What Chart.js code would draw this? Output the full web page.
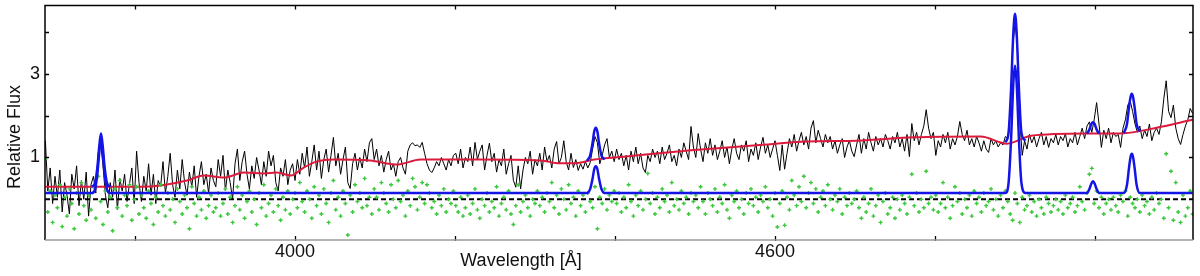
<!DOCTYPE html>
<html><head><meta charset="utf-8">
<script src="https://cdn.jsdelivr.net/npm/chart.js@4.4.0/dist/chart.umd.min.js"></script>
<style>html,body{margin:0;padding:0;background:#fff;overflow:hidden}#wrap{width:1200px;height:276px;position:relative}</style>
</head><body><div id="wrap"><canvas id="c" width="1200" height="276"></canvas></div>
<script>
// Observed spectrum on a regular wavelength grid (Å)
const waveStart = 3688;
const waveStep = 3;
const observedFlux = [
1.40,0.20,0.75,-0.10,0.55,0.05,0.70,-0.30,0.40,0.10,-0.35,0.60,0.25,0.80,-0.15,0.45,0.00,0.65,-0.40,0.35,0.55,0.15,1.10,1.35,0.80,0.10,-0.20,0.40,0.05,0.70,-0.25,0.50,0.20,0.60,-0.05,0.35,0.75,-0.10,
1.15,0.40,-0.05,0.55,0.20,0.85,0.10,0.60,-0.10,0.45,0.30,0.90,0.15,0.55,1.10,0.35,0.05,0.70,0.25,0.95,0.40,0.10,0.65,0.30,0.80,0.05,0.55,0.90,0.35,0.60,0.15,0.75,0.45,
0.30,0.95,0.55,1.05,0.20,0.70,0.40,0.00,0.85,1.20,0.45,0.90,1.15,0.60,0.25,0.80,0.50,1.00,0.70,0.35,0.90,0.55,1.15,0.80,1.05,0.40,0.20,0.75,0.55,0.95,0.35,0.70,0.85,
0.45,0.95,0.60,1.10,0.75,1.25,0.55,0.90,1.30,0.70,1.15,0.50,0.95,1.20,0.65,1.05,1.48,0.80,1.10,0.60,0.95,1.25,0.40,0.26,0.85,1.10,0.70,1.00,0.75,1.20,0.90,1.35,1.45,0.95,
1.20,0.80,1.05,0.65,0.95,1.15,0.70,0.85,0.55,0.90,1.00,0.75,0.60,1.15,1.30,1.35,1.28,1.30,1.24,1.36,1.10,0.85,0.70,0.64,0.75,0.90,0.80,1.00,0.85,0.70,0.95,0.80,1.05,
1.10,0.85,1.20,0.75,1.00,0.90,1.25,0.80,1.36,0.95,1.15,1.30,0.70,1.05,1.34,0.90,1.10,0.65,0.95,0.80,1.20,0.60,0.85,1.05,0.45,0.29,0.80,0.25,0.70,1.00,0.85,1.15,0.60,0.95,
0.80,1.10,0.70,1.25,0.90,1.05,0.75,1.20,1.38,0.85,1.00,1.40,0.90,0.70,1.10,0.76,0.95,0.69,0.85,0.72,0.90,0.75,0.88,1.20,1.50,1.35,0.85,1.05,1.30,1.45,1.00,1.15,0.90,
1.20,0.95,1.10,0.80,1.05,0.70,1.15,0.90,1.25,0.85,1.10,0.75,0.64,1.05,0.90,1.20,1.00,1.15,0.85,1.25,0.95,1.10,1.30,0.90,1.05,0.80,1.20,1.00,1.35,1.15,0.95,1.74,1.25,
1.00,1.57,1.20,0.90,1.35,1.10,1.45,1.05,1.30,0.95,1.15,1.40,1.00,1.25,0.85,1.20,1.45,1.10,0.95,1.30,1.15,1.40,0.90,1.20,1.05,1.35,0.95,1.25,1.48,1.10,1.30,1.00,1.20,1.40,
1.05,0.69,1.30,0.72,1.10,1.45,1.25,1.55,1.15,1.40,1.60,1.30,1.50,1.20,1.70,1.88,1.35,1.65,1.45,1.25,1.55,1.35,1.50,1.20,1.40,1.10,1.30,1.45,1.00,1.25,1.40,1.15,1.02,
1.30,1.55,1.10,1.45,1.20,1.60,1.35,1.15,1.50,1.30,1.45,1.25,1.55,1.40,1.20,1.50,1.35,1.60,1.25,1.45,1.15,1.55,1.02,1.81,1.40,1.60,1.30,1.55,1.75,2.14,1.70,1.45,1.60,
1.05,1.40,1.25,1.55,1.35,1.60,1.20,1.45,1.30,1.50,1.86,1.55,1.40,1.65,1.30,1.45,1.25,1.50,1.35,1.15,1.40,1.20,1.12,1.45,1.30,1.40,1.25,1.35,1.30,1.50,1.45,2.10,3.60,4.20,
3.70,1.90,1.05,1.40,1.20,1.55,1.35,1.50,1.25,1.45,1.60,1.30,1.50,1.24,1.45,1.35,1.55,1.30,1.50,1.40,1.57,1.25,1.45,1.35,1.60,1.30,1.50,1.70,1.45,1.75,1.85,1.60,1.90,
2.31,1.80,1.24,1.65,1.45,1.70,1.35,1.60,1.50,1.55,1.24,1.70,1.90,2.25,2.35,2.10,1.80,1.60,1.75,1.45,1.65,1.50,1.80,1.40,1.60,1.70,1.55,1.85,2.40,2.83,2.10,1.95,2.25,1.70,
1.45,1.31,1.55,1.75,1.90,2.17,2.05
];
// Fit residuals on the same grid
const residuals = [
0.95,-0.30,0.20,-0.55,0.10,-0.20,0.35,-0.65,0.05,-0.40,0.25,-0.10,-0.70,0.15,-0.35,0.40,-0.15,-0.50,0.10,-0.25,0.30,-0.45,0.55,-0.05,-0.60,0.20,-0.30,0.05,-0.75,0.25,-0.20,0.45,-0.40,0.10,-0.15,0.35,-0.50,0.00,
0.30,-0.35,0.10,-0.20,-0.45,0.20,-0.10,-0.60,0.05,-0.30,0.35,-0.15,-0.40,0.15,-0.25,0.00,-0.55,0.25,-0.05,-0.35,0.10,-0.20,-0.70,0.30,-0.10,-0.40,0.05,-0.25,0.20,-0.45,-0.15,0.10,-0.30,
-0.20,0.15,-0.40,-0.10,0.25,-0.35,0.05,-0.55,-0.15,0.30,-0.25,0.10,-0.45,-0.05,0.20,-0.30,0.00,-0.60,0.15,-0.20,0.35,-0.40,-0.10,0.10,-0.30,0.25,-0.15,-0.50,0.05,-0.25,0.20,-0.35,0.00,
0.15,-0.20,0.40,-0.05,-0.30,0.20,0.00,-0.45,0.30,-0.15,0.10,-0.35,0.25,-0.10,-0.55,0.15,0.45,-0.25,0.05,-0.40,0.20,-0.10,-0.85,0.10,-0.30,0.35,-0.05,0.15,-0.20,0.50,-0.15,0.05,-0.35,0.25,
0.05,-0.25,0.40,0.15,-0.10,-0.30,0.35,0.00,-0.20,0.45,-0.05,0.10,-0.40,0.20,-0.15,0.50,0.30,-0.25,0.05,0.40,-0.10,0.35,0.15,-0.20,-0.05,-0.35,0.10,-0.15,0.25,-0.30,0.00,-0.10,0.20,
-0.15,-0.30,0.05,-0.40,-0.20,0.10,-0.35,-0.10,0.25,-0.25,-0.45,0.00,-0.15,0.15,-0.30,-0.05,-0.20,0.30,-0.40,-0.10,0.05,-0.25,0.20,-0.35,-0.60,-0.15,0.35,-0.30,-0.05,0.10,-0.20,-0.40,0.00,-0.10,
0.20,-0.15,0.05,-0.30,0.15,-0.05,0.40,-0.20,0.10,-0.35,0.25,0.00,-0.25,0.35,-0.10,0.05,-0.40,0.20,-0.15,0.10,-0.30,0.15,-0.05,-0.20,0.30,-0.70,0.05,-0.10,0.25,-0.25,0.10,-0.05,0.20,
-0.10,0.15,-0.30,0.05,-0.20,0.35,-0.05,-0.40,0.10,-0.15,0.20,-0.25,0.00,0.62,-0.10,0.15,-0.35,0.05,-0.20,0.25,-0.05,0.10,-0.30,0.40,-0.15,0.00,-0.25,0.20,-0.10,0.05,-0.35,0.15,-0.05,
0.10,-0.20,0.30,-0.05,-0.35,0.15,0.00,-0.15,0.25,-0.30,0.05,-0.10,0.35,-0.25,-0.45,0.10,-0.05,0.20,-0.20,0.00,-0.35,0.15,-0.10,0.25,-0.15,0.05,-0.30,0.10,-0.05,0.30,-0.20,0.00,-0.40,0.15,
-0.66,-0.10,0.20,-0.62,0.05,-0.25,0.45,0.10,-0.15,0.30,-0.05,0.55,-0.20,0.15,0.40,-0.10,0.25,-0.30,0.05,0.20,-0.15,0.35,0.00,-0.25,0.10,-0.05,0.25,-0.35,0.05,-0.15,0.15,-0.10,0.00,
0.20,-0.20,-0.45,0.05,-0.30,-0.10,0.25,-0.40,-0.15,0.10,-0.55,-0.05,0.15,-0.35,-0.20,0.05,-0.45,0.00,-0.25,0.10,-0.10,-0.35,0.05,0.60,-0.15,0.15,-0.30,0.00,-0.20,0.67,-0.10,0.05,-0.25,
0.10,-0.30,-0.10,0.40,-0.20,0.05,-0.45,-0.15,0.30,-0.05,0.15,-0.35,0.00,-0.20,0.10,-0.40,0.20,-0.10,0.05,-0.30,0.15,-0.15,-0.05,0.25,-0.25,0.00,-0.40,0.10,-0.20,0.20,-0.05,-0.35,-0.50,0.15,
-0.10,-0.55,0.05,-0.25,-0.15,0.10,-0.30,-0.05,-0.40,0.00,-0.20,-0.35,0.05,-0.10,-0.30,-0.15,0.00,-0.25,-0.05,-0.35,0.10,-0.20,-0.10,0.05,-0.30,-0.15,0.30,-0.05,-0.25,0.15,0.60,0.74,-0.10,
0.20,-0.20,0.05,-0.35,-0.10,0.00,-0.25,0.05,-0.15,-0.30,0.10,-0.05,0.20,-0.40,0.05,-0.10,-0.20,0.00,-0.30,0.10,-0.15,-0.05,-0.35,0.05,-0.25,0.15,-0.10,0.00,-0.45,1.09,-0.20,0.67,-0.50,0.40,
-0.30,-0.55,0.10,-0.40,-0.20,0.20,-0.35
];
// Stellar continuum model (red)
const modelWave = [3688,3756,3819,3865,3886,3911,3936,3961,3977,3995,4011,4027,4049,4094,4127,4157,4231,4307,4331,4349,4374,4411,4495,4577,4640,4702,4774,4857,4890,4920,4995,5036,5077,5122];
const modelFlux = [0.30,0.30,0.31,0.45,0.57,0.52,0.64,0.62,0.64,0.57,0.76,0.90,0.95,0.93,0.83,0.95,0.95,0.93,0.86,0.86,0.95,1.02,1.17,1.29,1.38,1.40,1.48,1.50,1.33,1.52,1.57,1.58,1.71,1.90];
// Emission-line model, offset baseline (blue, lower)
const emissionWave = [3688,3746,3750,3753,3755.5,3757.5,3759.5,3762,3765,3769,4365,4369,4372,4374,4376,4378,4380,4383,4387,4888,4892,4895,4898,4900,4902,4905,4908,4913,4990,4993,4995.5,4997.5,4999.5,5002,5005,5036,5040,5042.5,5044.5,5046,5047.5,5049.5,5052,5056,5122];
const emissionFlux = [0.15,0.15,0.24,0.62,1.15,1.42,1.15,0.62,0.24,0.15,0.15,0.25,0.50,0.72,0.79,0.72,0.50,0.25,0.15,0.15,0.40,1.40,2.80,3.19,2.80,1.40,0.40,0.15,0.15,0.25,0.38,0.43,0.38,0.25,0.15,0.15,0.35,0.75,1.02,1.09,1.02,0.75,0.35,0.15,0.15];
// Total model at the emission lines (blue, upper); null breaks the line
const totalWave = [3746,3750,3753,3755.5,3757.5,3759.5,3762,3765,3769,4000,4365,4369,4372,4374,4376,4378,4380,4383,4387,4600,4888,4892,4895,4898,4900,4902,4905,4908,4913,4950,4990,4993,4995.5,4997.5,4999.5,5002,5005,5020,5036,5040,5042.5,5044.5,5046,5047.5,5049.5,5052,5056];
const totalFlux = [0.30,0.39,0.77,1.30,1.57,1.30,0.77,0.39,0.30,null,0.92,1.05,1.35,1.62,1.71,1.62,1.35,1.05,0.95,null,1.36,1.60,2.60,4.00,4.43,4.00,2.60,1.60,1.40,null,1.57,1.67,1.80,1.84,1.80,1.67,1.57,null,1.58,1.80,2.20,2.45,2.52,2.45,2.20,1.80,1.62];
// Zero level (dashed)
const zeroWave = [3687.5, 5122.5];
const zeroFlux = [0, 0];
// Axes
const xTicks = [3800, 4000, 4200, 4400, 4600, 4800, 5000];
const xTickLabels = ['4000', '4600'];
const yTicks = [1, 2, 3, 4];
const yTickLabels = ['1', '3'];
const xTitle = 'Wavelength [Å]';
const yTitle = 'Relative Flux';

const FONT = '"Liberation Sans", Arial, Helvetica, sans-serif';
const obsWave = observedFlux.map((_, i) => waveStart + i * waveStep);
const pairs = (xs, ys) => xs.map((x, i) => ({x: x, y: ys[i]}));

const framePlugin = {
  id: 'frame',
  afterDraw(chart) {
    const {ctx, chartArea: a, scales} = chart;
    const xs = scales.x, ys = scales.y;
    ctx.save();
    ctx.strokeStyle = '#000';
    ctx.lineWidth = 1.3;
    ctx.beginPath();
    xTicks.forEach(v => {
      const px = Math.round(xs.getPixelForValue(v)) + 0.5;
      ctx.moveTo(px, a.bottom + 1); ctx.lineTo(px, a.bottom - 4);
      ctx.moveTo(px, a.top); ctx.lineTo(px, a.top + 4);
    });
    yTicks.forEach(v => {
      const py = Math.round(ys.getPixelForValue(v)) + 0.5;
      ctx.moveTo(a.left, py); ctx.lineTo(a.left + 4, py);
      ctx.moveTo(a.right, py); ctx.lineTo(a.right - 4, py);
    });
    ctx.stroke();
    ctx.lineWidth = 1.5;
    ctx.strokeStyle = '#000';
    ctx.beginPath();
    ctx.moveTo(a.left, a.bottom); ctx.lineTo(a.left, a.top); ctx.lineTo(a.right, a.top); ctx.lineTo(a.right, a.bottom);
    ctx.stroke();
    ctx.strokeStyle = '#9a9a9a';
    ctx.beginPath(); ctx.moveTo(a.left, a.bottom); ctx.lineTo(a.right, a.bottom); ctx.stroke();
    ctx.fillStyle = '#111';
    ctx.font = '18px ' + FONT;
    ctx.textAlign = 'center';
    ctx.textBaseline = 'alphabetic';
    ctx.fillText(xTitle, 521, 266);
    ctx.translate(20, 137);
    ctx.rotate(-Math.PI / 2);
    ctx.fillText(yTitle, 0, 0);
    ctx.restore();
  }
};

const noPad = s => { s.paddingTop = 0; s.paddingBottom = 0; s.paddingLeft = 0; s.paddingRight = 0; };

new Chart(document.getElementById('c'), {
  type: 'line',
  data: {
    datasets: [
      {data: pairs(totalWave, totalFlux), borderColor: '#1414e6', borderWidth: 2.5, pointRadius: 0, cubicInterpolationMode: 'monotone', spanGaps: false, order: 0},
      {data: pairs(emissionWave, emissionFlux), borderColor: '#1414e6', borderWidth: 2.5, pointRadius: 0, cubicInterpolationMode: 'monotone', order: 1},
      {data: pairs(obsWave, residuals), showLine: false, pointStyle: 'cross', pointRadius: 2, pointBorderWidth: 1.4, borderColor: '#3cc83c', backgroundColor: '#3cc83c', order: 2},
      {data: pairs(zeroWave, zeroFlux), borderColor: '#000', borderWidth: 2, borderDash: [5, 3], pointRadius: 0, order: 3},
      {data: pairs(modelWave, modelFlux), borderColor: '#dc1a3c', borderWidth: 2, pointRadius: 0, cubicInterpolationMode: 'monotone', order: 4},
      {data: pairs(obsWave, observedFlux), borderColor: '#000', borderWidth: 1, pointRadius: 0, tension: 0, order: 5}
    ]
  },
  options: {
    responsive: false,
    animation: false,
    devicePixelRatio: 1,
    layout: {padding: {top: 4, right: 7, left: 0, bottom: 0}},
    plugins: {legend: {display: false}, tooltip: {enabled: false}},
    scales: {
      x: {
        type: 'linear', min: 3687.5, max: 5122.5,
        grid: {display: false, drawTicks: false}, border: {display: false},
        afterBuildTicks: s => { s.ticks = xTicks.map(v => ({value: v})); },
        afterFit: s => { s.height = 36; noPad(s); },
        ticks: {
          autoSkip: false, maxRotation: 0, padding: 1, color: '#111',
          font: {family: FONT, size: 18},
          callback: v => xTickLabels.includes(String(v)) ? String(v) : ''
        }
      },
      y: {
        type: 'linear', min: -0.97, max: 4.63,
        grid: {display: false, drawTicks: false}, border: {display: false},
        afterBuildTicks: s => { s.ticks = yTicks.map(v => ({value: v})); },
        afterFit: s => { s.width = 45; noPad(s); },
        ticks: {
          autoSkip: false, padding: 5, color: '#111',
          font: {family: FONT, size: 18},
          callback: v => yTickLabels.includes(String(v)) ? String(v) : ''
        }
      }
    }
  },
  plugins: [framePlugin]
});
</script>
</body></html>
